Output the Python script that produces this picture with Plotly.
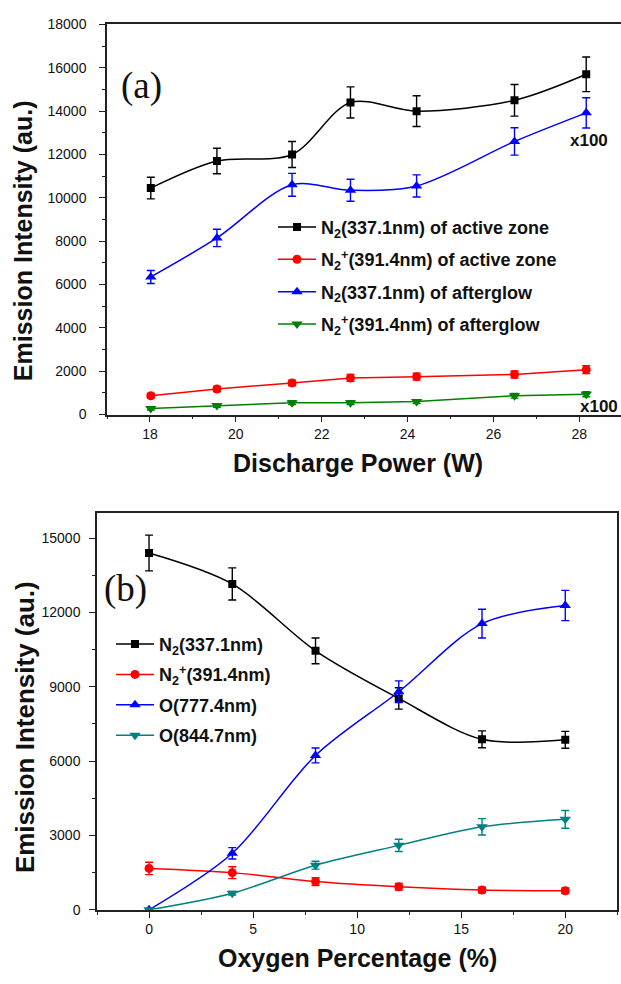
import plotly.graph_objects as go

W, H = 621, 984


def px(x):
    return x / W


def py(y):
    return 1 - y / H


# ---------------- Panel (a) data ----------------
power = [18.02, 19.56, 21.31, 22.67, 24.21, 26.49, 28.16]
n2_active = [10450, 11700, 12000, 14400, 14000, 14500, 15700]
n2_active_err = [500, 590, 600, 720, 710, 730, 800]
n2p_active = [870, 1180, 1460, 1690, 1750, 1850, 2070]
n2p_active_err = [110, 120, 130, 160, 160, 160, 180]
n2_after = [6350, 8150, 10600, 10350, 10550, 12600, 13920]
n2_after_err = [300, 400, 530, 510, 510, 630, 700]
n2p_after = [280, 420, 550, 550, 600, 870, 940]
n2p_after_err = [70, 80, 90, 90, 90, 110, 120]

# ---------------- Panel (b) data ----------------
oxygen = [0, 4, 8, 12, 16, 20]
n2_b = [14400, 13150, 10450, 8530, 6880, 6860]
n2_b_err = [720, 650, 520, 430, 340, 340]
n2p_b = [1670, 1500, 1140, 930, 800, 770]
n2p_b_err = [250, 240, 160, 130, 110, 110]
o777 = [0, 2280, 6230, 8800, 11550, 12280]
o777_err = [0, 230, 300, 440, 580, 610]
o844 = [0, 670, 1800, 2600, 3350, 3650]
o844_err = [0, 70, 160, 250, 330, 360]

legend_a_names = [
    "N<sub>2</sub>(337.1nm) of active zone",
    "N<sub>2</sub><sup>+</sup>(391.4nm) of active zone",
    "N<sub>2</sub>(337.1nm) of afterglow",
    "N<sub>2</sub><sup>+</sup>(391.4nm) of afterglow",
]
legend_b_names = [
    "N<sub>2</sub>(337.1nm)",
    "N<sub>2</sub><sup>+</sup>(391.4nm)",
    "O(777.4nm)",
    "O(844.7nm)",
]

FONT = "Liberation Sans, Arial, sans-serif"

fig = go.Figure()


def add(x, y, err, color, symbol, size, name, xa, ya, leg, shape, group):
    fig.add_trace(go.Scatter(
        x=x, y=y, name=name, mode="lines+markers",
        xaxis=xa, yaxis=ya, legend=leg, legendgroup=group,
        line=dict(color=color, width=1.5, shape=shape, smoothing=0.9),
        marker=dict(symbol=symbol, size=size, color=color),
        error_y=dict(type="data", array=err, visible=True, color=color,
                     thickness=1.4, width=4),
    ))


add(power, n2_active, n2_active_err, "#000000", "square", 8, legend_a_names[0], "x", "y", "legend", "spline", "a1")
add(power, n2p_active, n2p_active_err, "#ff0000", "circle", 9, legend_a_names[1], "x", "y", "legend", "linear", "a2")
add(power, n2_after, n2_after_err, "#0000ff", "triangle-up", 10, legend_a_names[2], "x", "y", "legend", "spline", "a3")
add(power, n2p_after, n2p_after_err, "#008000", "triangle-down", 10, legend_a_names[3], "x", "y", "legend", "linear", "a4")

add(oxygen, n2_b, n2_b_err, "#000000", "square", 8, legend_b_names[0], "x2", "y2", "legend2", "spline", "b1")
add(oxygen, n2p_b, n2p_b_err, "#ff0000", "circle", 9, legend_b_names[1], "x2", "y2", "legend2", "spline", "b2")
add(oxygen, o777, o777_err, "#0000ff", "triangle-up", 10, legend_b_names[2], "x2", "y2", "legend2", "spline", "b3")
add(oxygen, o844, o844_err, "#008080", "triangle-down", 10, legend_b_names[3], "x2", "y2", "legend2", "spline", "b4")

axis_common = dict(
    showgrid=False, zeroline=False, showline=True, linecolor="#222222", linewidth=1.5,
    ticks="outside", ticklen=6, tickwidth=1.3, tickcolor="#222222",
    tickfont=dict(family=FONT, size=14, color="#111111"),
)

fig.update_layout(
    width=W, height=H, margin=dict(l=0, r=0, t=0, b=0),
    paper_bgcolor="white", plot_bgcolor="white",
    xaxis=dict(domain=[px(107), 1.0], range=[17, 28.97], anchor="y",
               tick0=18, dtick=2, mirror=True, tickformat="d",
               minor=dict(dtick=1, ticklen=3, tickwidth=1.2, tickcolor="#222222", ticks="outside"),
               **axis_common),
    yaxis=dict(domain=[py(413.3), py(16.7)], range=[0, 18000], anchor="x",
               tick0=0, dtick=2000, mirror=False, ticklabelstandoff=10, tickformat="d",
               minor=dict(dtick=1000, ticklen=3, tickwidth=1.2, tickcolor="#222222", ticks="outside"),
               **axis_common),
    xaxis2=dict(domain=[px(97), px(617.3)], range=[-2.5, 22.5], anchor="y2",
                tick0=0, dtick=5, mirror=True, tickformat="d",
                minor=dict(dtick=2.5, ticklen=3, tickwidth=1.2, tickcolor="#222222", ticks="outside"),
                **axis_common),
    yaxis2=dict(domain=[py(916.7), py(513.7)], range=[0, 16000], anchor="x2",
                tick0=0, dtick=3000, mirror=True, ticklabelstandoff=6, tickformat="d",
                minor=dict(dtick=1500, ticklen=3, tickwidth=1.2, tickcolor="#222222", ticks="outside"),
                **axis_common),
    legend=dict(x=px(273), y=py(204), xanchor="left", yanchor="top",
                bgcolor="rgba(0,0,0,0)", borderwidth=0, itemwidth=38,
                tracegroupgap=6, traceorder="grouped",
                font=dict(family=FONT, size=18, color="#111111", weight="bold")),
    legend2=dict(x=px(111), y=py(628), xanchor="left", yanchor="top",
                 bgcolor="rgba(0,0,0,0)", borderwidth=0, itemwidth=38,
                 tracegroupgap=4, traceorder="grouped",
                 font=dict(family=FONT, size=18, color="#111111", weight="bold")),
    showlegend=True,
)

annotations = [
    dict(text="(a)", x=px(141), y=py(79), font=dict(family="Liberation Serif, Times New Roman, serif", size=37, color="#111111")),
    dict(text="(b)", x=px(125), y=py(591), font=dict(family="Liberation Serif, Times New Roman, serif", size=37, color="#111111")),
    dict(text="x100", x=px(589), y=py(135), font=dict(family=FONT, size=17, color="#111111", weight="bold")),
    dict(text="x100", x=px(599), y=py(405), font=dict(family=FONT, size=17, color="#111111", weight="bold")),
    dict(text="Discharge Power (W)", x=px(358), y=py(463), font=dict(family=FONT, size=25, color="#111111", weight="bold")),
    dict(text="Oxygen Percentage (%)", x=px(357), y=py(966), font=dict(family=FONT, size=25, color="#111111", weight="bold")),
    dict(text="Emission Intensity (au.)", x=px(23), y=py(237), textangle=-90, font=dict(family=FONT, size=25, color="#111111", weight="bold")),
    dict(text="Emission Intensity (au.)", x=px(25), y=py(731), textangle=-90, font=dict(family=FONT, size=26, color="#111111", weight="bold")),
]
for a in annotations:
    a.update(xref="paper", yref="paper", showarrow=False, xanchor="center", yanchor="middle")
fig.update_layout(annotations=annotations)

fig.write_html("out.html")
